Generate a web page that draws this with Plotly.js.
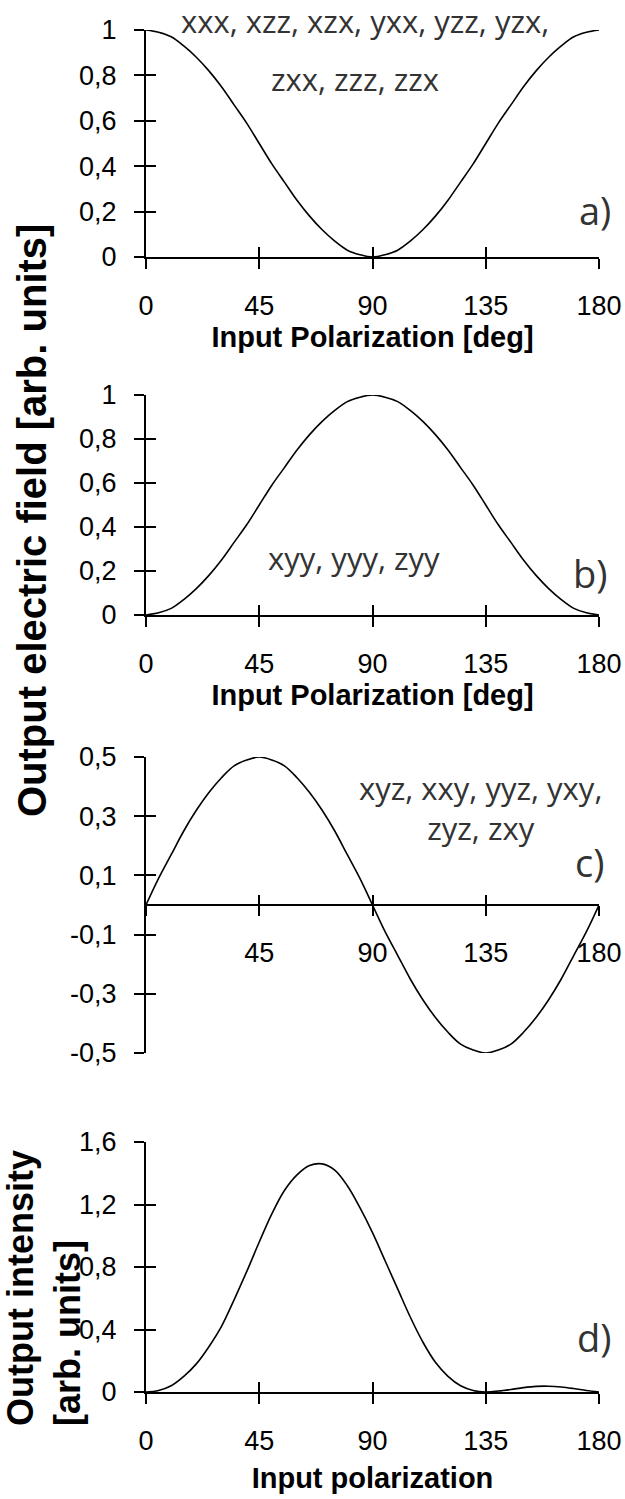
<!DOCTYPE html>
<html>
<head>
<meta charset="utf-8">
<script src="https://cdn.plot.ly/plotly-3.0.1.min.js"></script>
<style>html,body{margin:0;padding:0;background:#fff;}#chart{width:625px;height:1499px;}</style>
</head>
<body>
<div id="chart"></div>
<script>
// ---------- data ----------
const angles = [0,5,10,15,20,25,30,35,40,45,50,55,60,65,70,75,80,85,90,95,100,105,110,115,120,125,130,135,140,145,150,155,160,165,170,175,180];

const fieldA = [1,0.99,0.97,0.93,0.88,0.82,0.75,0.67,0.59,0.50,0.41,0.33,0.25,0.18,0.12,0.07,0.03,0.01,0,0.01,0.03,0.07,0.12,0.18,0.25,0.33,0.41,0.50,0.59,0.67,0.75,0.82,0.88,0.93,0.97,0.99,1];

const fieldB = [0,0.01,0.03,0.07,0.12,0.18,0.25,0.33,0.41,0.50,0.59,0.67,0.75,0.82,0.88,0.93,0.97,0.99,1,0.99,0.97,0.93,0.88,0.82,0.75,0.67,0.59,0.50,0.41,0.33,0.25,0.18,0.12,0.07,0.03,0.01,0];

const fieldC = [0,0.09,0.17,0.25,0.32,0.38,0.43,0.47,0.49,0.50,0.49,0.47,0.43,0.38,0.32,0.25,0.17,0.09,0,-0.09,-0.17,-0.25,-0.32,-0.38,-0.43,-0.47,-0.49,-0.50,-0.49,-0.47,-0.43,-0.38,-0.32,-0.25,-0.17,-0.09,0];

const intensityD = [0,0.01,0.04,0.10,0.18,0.29,0.42,0.59,0.77,0.96,1.14,1.29,1.39,1.45,1.46,1.42,1.32,1.18,1.02,0.84,0.66,0.48,0.32,0.19,0.10,0.04,0.01,0,0.006,0.016,0.028,0.036,0.037,0.032,0.022,0.01,0];

const xTickVals = [0,45,90,135,180];
const xTickText = ['0','45','90','135','180'];
const xTickTextC = ['','45','90','135','180'];

const yTickValsAB = [0,0.2,0.4,0.6,0.8,1];
const yTickTextAB = ['0','0,2','0,4','0,6','0,8','1'];
const yTickValsC = [-0.5,-0.3,-0.1,0.1,0.3,0.5];
const yTickTextC = ['-0,5','-0,3','-0,1','0,1','0,3','0,5'];
const yTickValsD = [0,0.4,0.8,1.2,1.6];
const yTickTextD = ['0','0,4','0,8','1,2','1,6'];

const labelsA1 = 'xxx, xzz, xzx, yxx, yzz, yzx,';
const labelsA2 = 'zxx, zzz, zzx';
const labelsB = 'xyy, yyy, zyy';
const labelsC = 'xyz, xxy, yyz, yxy,<br>zyz, zxy';
const panelTags = ['a)','b)','c)','d)'];
const xTitleDeg = 'Input Polarization [deg]';
const xTitleD = 'Input polarization';
const yTitleMain = 'Output electric field [arb. units]';
const yTitleD = 'Output intensity<br>[arb. units]';

// ---------- layout helpers (pixel -> paper) ----------
const W = 625, H = 1499;
const px = v => v / W;
const py = v => 1 - v / H;

const tickFont = {family: 'Liberation Sans, Arial, sans-serif', size: 27, color: '#000'};
const titleFont = {family: 'Liberation Sans, Arial, sans-serif', size: 29, color: '#000', weight: 700};
const noteFont = {family: 'Open Sans, sans-serif', size: 31, color: '#333'};
const tagFont = {family: 'Open Sans, sans-serif', size: 38, color: '#333'};

const xDom = [px(146), px(599)];
const doms = [
  [py(257), py(30)],
  [py(615), py(395)],
  [py(1053), py(757)],
  [py(1392), py(1142)]
];

const series = [fieldA, fieldB, fieldC, intensityD];
const traces = [];
series.forEach((ys, i) => {
  traces.push({
    x: angles, y: ys, type: 'scatter', mode: 'lines',
    line: {color: '#000', width: 1.6, shape: 'spline', smoothing: 1},
    xaxis: 'x' + (i + 1), yaxis: 'y' + (i + 1), hoverinfo: 'skip'
  });
  // invisible companion trace so the overlay axes (inner half of the crossing ticks) get drawn
  traces.push({
    x: angles, y: ys, type: 'scatter', mode: 'lines',
    line: {color: 'rgba(0,0,0,0)', width: 0},
    xaxis: 'x' + (i + 5), yaxis: 'y' + (i + 5), hoverinfo: 'skip'
  });
});

const layout = {
  width: W, height: H,
  margin: {l: 0, r: 0, t: 0, b: 0},
  paper_bgcolor: '#fff', plot_bgcolor: 'rgba(0,0,0,0)',
  showlegend: false,
  font: tickFont,
  annotations: []
};

const yRanges = [[0,1],[0,1],[-0.5,0.5],[0,1.6]];
const yVals = [yTickValsAB, yTickValsAB, yTickValsC, yTickValsD];
const yTexts = [yTickTextAB, yTickTextAB, yTickTextC, yTickTextD];
const xTexts = [xTickText, xTickText, xTickTextC, xTickText];
const xTitles = [xTitleDeg, xTitleDeg, null, xTitleD];
const xStandoff = [6, 6, 6, 12];

for (let i = 0; i < 4; i++) {
  const n = i + 1;
  const xa = {
    domain: xDom, range: [0,180], anchor: 'y' + n,
    showline: true, linecolor: '#000', linewidth: 2,
    showgrid: false, zeroline: false,
    ticks: 'outside', ticklen: 10, tickwidth: 2, tickcolor: '#000',
    tickmode: 'array', tickvals: xTickVals, ticktext: xTexts[i],
    tickfont: tickFont, ticklabelstandoff: 14, fixedrange: true
  };
  if (i === 2) { xa.anchor = 'free'; xa.position = (doms[2][0] + doms[2][1]) / 2; }
  if (xTitles[i]) xa.title = {text: xTitles[i], font: titleFont, standoff: xStandoff[i]};
  layout['xaxis' + n] = xa;
  layout['yaxis' + n] = {
    domain: doms[i], range: yRanges[i], anchor: 'x' + n,
    showline: true, linecolor: '#000', linewidth: 2,
    showgrid: false, zeroline: false,
    ticks: 'outside', ticklen: 10, tickwidth: 2, tickcolor: '#000',
    tickmode: 'array', tickvals: yVals[i], ticktext: yTexts[i],
    tickfont: tickFont, ticklabelstandoff: 12, fixedrange: true
  };
  // overlay axes carrying the inner half of the crossing ticks
  const m = n + 4;
  const xo = {
    domain: xDom, range: [0,180], overlaying: 'x' + n, anchor: 'y' + m,
    showline: false, showgrid: false, zeroline: false, showticklabels: false,
    ticks: 'inside', ticklen: 10, tickwidth: 2, tickcolor: '#000',
    tickmode: 'array', tickvals: xTickVals, fixedrange: true
  };
  if (i === 2) { xo.anchor = 'free'; xo.position = xa.position; }
  layout['xaxis' + m] = xo;
  layout['yaxis' + m] = {
    domain: doms[i], range: yRanges[i], overlaying: 'y' + n, anchor: 'x' + m,
    showline: false, showgrid: false, zeroline: false, showticklabels: false,
    ticks: 'inside', ticklen: 10, tickwidth: 2, tickcolor: '#000',
    tickmode: 'array', tickvals: yVals[i], fixedrange: true
  };
}

const ann = (text, x, y, font, extra) => Object.assign({
  text: text, x: px(x), y: py(y), xref: 'paper', yref: 'paper',
  showarrow: false, font: font, xanchor: 'center', yanchor: 'middle'
}, extra || {});

layout.annotations.push(
  ann(labelsA1, 365, 21, noteFont),
  ann(labelsA2, 355, 79, noteFont),
  ann(labelsB, 354, 558, noteFont),
  ann(labelsC, 481, 808, noteFont, {align: 'center'}),
  ann(panelTags[0], 595, 210, tagFont),
  ann(panelTags[1], 590, 573, tagFont),
  ann(panelTags[2], 589, 862, tagFont),
  ann(panelTags[3], 594, 1337, tagFont),
  ann(yTitleMain, 32, 521, {family: 'Liberation Sans, Arial, sans-serif', size: 40, color: '#000', weight: 700}, {textangle: -90}),
  ann(yTitleD, 44, 1428, {family: 'Liberation Sans, Arial, sans-serif', size: 36, color: '#000', weight: 700}, {textangle: -90, yanchor: 'bottom', align: 'left'})
);

Plotly.newPlot('chart', traces, layout, {staticPlot: true, displayModeBar: false});
</script>
</body>
</html>
